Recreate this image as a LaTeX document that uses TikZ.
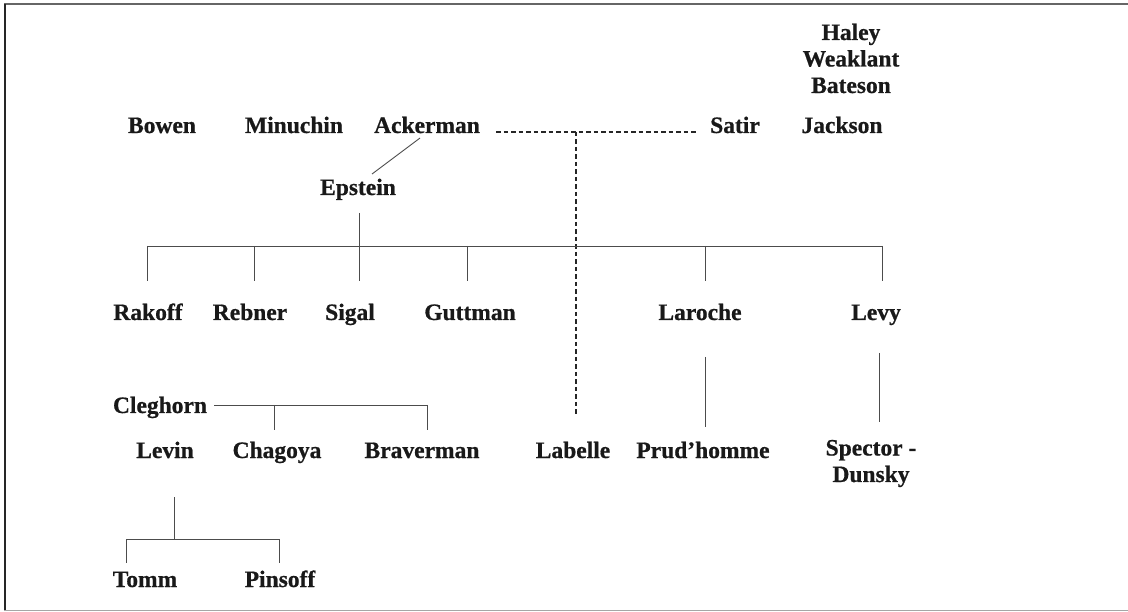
\documentclass[tikz,border=0pt]{standalone}
\usepackage{fontspec}
\newfontfamily\nmfont{Liberation Serif}[UprightFont=* Bold, BoldFont=* Bold, FakeBold=0.7]
\begin{document}
\begin{tikzpicture}[x=1pt,y=-1pt,
  nm/.style={font=\nmfont\fontsize{23.5}{26.5}\selectfont, anchor=base, inner sep=0pt, align=center, text=black!90},
  ln/.style={line width=0.9pt, draw=black!70},
  dsh/.style={line width=1.2pt, draw=black!85, dash pattern=on 4.5pt off 3pt}]
\useasboundingbox (0,0) rectangle (1128,612);
% frame
\draw[line width=2pt, draw=black!60] (4,4.5) -- (1128,4.5);
\draw[line width=2pt, draw=black!85] (4.5,4) -- (4.5,611);
\draw[line width=1.5pt, draw=black!35] (4,610.5) -- (1128,610.5);
% names
\node[nm] (hwb) at (851,93) {Haley\\Weaklant\\Bateson};
\node[nm] (bowen) at (162,133) {Bowen};
\node[nm] (minuchin) at (294,133) {Minuchin};
\node[nm] (ackerman) at (427,133) {Ackerman};
\node[nm] (satir) at (735,133) {Satir};
\node[nm] (jackson) at (842,133) {Jackson};
\node[nm] (epstein) at (358,195) {Epstein};
\node[nm] (rakoff) at (148,320) {Rakoff};
\node[nm] (rebner) at (250,320) {Rebner};
\node[nm] (sigal) at (350,320) {Sigal};
\node[nm] (guttman) at (470,320) {Guttman};
\node[nm] (laroche) at (700,320) {Laroche};
\node[nm] (levy) at (876,320) {Levy};
\node[nm] (cleghorn) at (160,413) {Cleghorn};
\node[nm] (levin) at (165,458) {Levin};
\node[nm] (chagoya) at (277,458) {Chagoya};
\node[nm] (braverman) at (422,458) {Braverman};
\node[nm] (labelle) at (573,458) {Labelle};
\node[nm] (prud) at (703,458) {Prud’homme};
\node[nm] (spector) at (871,482) {Spector -\\Dunsky};
\node[nm] (tomm) at (145,587) {Tomm};
\node[nm] (pinsoff) at (280,587) {Pinsoff};
% junction coordinates
\coordinate (ackD) at (420,138);
\coordinate (epU) at (372,174);
\coordinate (dL) at (496,132);
\coordinate (dJ) at (576,132);
\coordinate (dR) at (697,132);
\coordinate (dB) at (576,414);
\coordinate (epD) at (359,213);
\coordinate (epB) at (359,246);
\coordinate (busL) at (147,246);
\coordinate (busR) at (882,246);
% connectors
\draw[ln] (ackD) -- (epU);
\draw[dsh] (dL) -- (dR);
\draw[dsh] (dJ) -- (dB);
\draw[ln] (epD) -- (epB);
\draw[ln] (busL) -- (busR);
\foreach \x in {147,254,359,467,705,882} \draw[ln] (\x,246) -- (\x,281);
\draw[ln] (705,357) -- (705,427);
\draw[ln] (879,353) -- (879,422);
\draw[ln] (214,405) -- (427,405);
\draw[ln] (274,405) -- (274,430);
\draw[ln] (427,405) -- (427,430);
\draw[ln] (174,497) -- (174,539);
\draw[ln] (126,539) -- (279,539);
\draw[ln] (126,539) -- (126,563);
\draw[ln] (279,539) -- (279,563);
\end{tikzpicture}
\end{document}
